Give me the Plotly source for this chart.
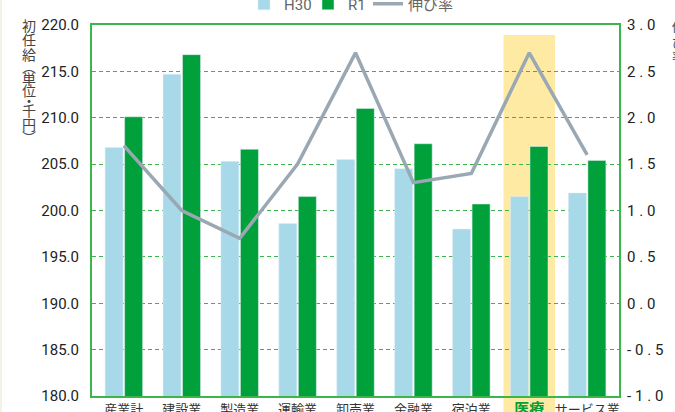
import plotly.graph_objects as go

categories = ["産業計", "建設業", "製造業", "運輸業", "卸売業", "金融業", "宿泊業", "医療", "サービス業"]
h30 = [206.8, 214.7, 205.3, 198.6, 205.5, 204.5, 198.0, 201.5, 201.9]
r1 = [210.1, 216.8, 206.6, 201.5, 211.0, 207.2, 200.7, 206.9, 205.4]
growth = [1.7, 1.0, 0.7, 1.5, 2.7, 1.3, 1.4, 2.7, 1.6]
highlight = "医療"

left_ticks = [180, 185, 190, 195, 200, 205, 210, 215, 220]
right_ticks = [-1.0, -0.5, 0.0, 0.5, 1.0, 1.5, 2.0, 2.5, 3.0]

left_title = "初任給︵単位・千円︶"
right_title = "伸び率"

GREEN = "#00a13a"
BLUE = "#a8d9e8"
GRAY = "#9aa8b3"
FRAME = "#3cb54a"
FONT = "Roboto, Noto Sans CJK JP, sans-serif"

W, H = 675, 412
L, R, T, B = 92, 56, 25, 16
PW = W - L - R
PH = H - T - B

x_idx = list(range(len(categories)))
ticktext = [
    f"<b><span style='color:{GREEN};font-size:15px'>{c}</span></b>" if c == highlight else c
    for c in categories
]

def spaced(v):
    s = f"{v:.1f}"
    return "\u2005".join(s)

fig = go.Figure()
fig.add_trace(go.Bar(name="H30", x=x_idx, y=h30, marker_color=BLUE, legend="legend"))
fig.add_trace(go.Bar(name="R1", x=x_idx, y=r1, marker_color=GREEN, legend="legend2"))
fig.add_trace(go.Scatter(name="伸び率", x=x_idx, y=growth, mode="lines",
                         line=dict(color=GRAY, width=3.5), yaxis="y2", legend="legend3"))

hi = categories.index(highlight)
fig.add_shape(type="rect", xref="x", yref="paper", x0=hi - 0.445, x1=hi + 0.445,
              y0=-B / PH, y1=(396 - 35) / PH, fillcolor="#ffeaa3", line_width=0, layer="below")
# faint page edge
fig.add_shape(type="rect", xref="paper", yref="paper", x0=-L / PW, x1=-(L - 2) / PW,
              y0=-B / PH, y1=1 + T / PH, fillcolor="#eef5e2", line_width=0)

# vertical axis titles
char_y = [26, 40, 54.5, 67, 79, 91.5, 101, 111, 125, 138]
for ch, py in zip(left_title, char_y):
    fig.add_annotation(text=ch, xref="paper", yref="paper", x=(29 - L) / PW,
                       y=(396 - py) / PH, showarrow=False, xanchor="center", yanchor="middle",
                       font=dict(family=FONT, size=14, color="#444"))
for ch, py in zip(right_title, [28, 44, 58]):
    fig.add_annotation(text=ch, xref="paper", yref="paper", x=(670 - L) / PW,
                       y=(396 - py) / PH, showarrow=False, xanchor="left", yanchor="middle",
                       font=dict(family=FONT, size=12, color="#444"))

def legend_at(px):
    return dict(orientation="h", x=(px - L) / PW, xanchor="left", y=1 + (T - 4) / PH,
                yanchor="middle", font=dict(size=15, color="#666"), bgcolor="rgba(0,0,0,0)",
                itemwidth=30, tracegroupgap=0, borderwidth=0)

fig.update_layout(
    width=W, height=H,
    margin=dict(l=L, r=R, t=T, b=B, autoexpand=False),
    paper_bgcolor="white", plot_bgcolor="rgba(0,0,0,0)",
    barmode="group", bargap=0.326, bargroupgap=0.077,
    font=dict(family=FONT, color="#333"),
    showlegend=True,
    legend=legend_at(244), legend2=legend_at(308), legend3=legend_at(368),
    xaxis=dict(range=[-0.55, len(categories) - 0.45], tickmode="array", tickvals=x_idx,
               ticktext=ticktext, showgrid=False, showline=True, linecolor=FRAME, linewidth=2,
               mirror=True, ticks="", tickfont=dict(size=13, color="#333"), zeroline=False),
    yaxis=dict(range=[180, 220], tickvals=left_ticks, ticktext=[f"{v:.1f}" for v in left_ticks],
               showgrid=True, gridcolor=FRAME, griddash="4px,3px", gridwidth=1,
               showline=True, linecolor=FRAME, linewidth=2, mirror=True, zeroline=False,
               tickfont=dict(size=15, color="#222"), ticks="", ticklabelstandoff=8),
    yaxis2=dict(range=[-1.0, 3.0], overlaying="y", side="right", tickvals=right_ticks,
                ticktext=[spaced(v) for v in right_ticks], showgrid=False, zeroline=False,
                showline=False, tickfont=dict(size=15, color="#222"), ticks="",
                ticklabelstandoff=7),
)

fig.write_html("out.html", config={"displayModeBar": False},
               post_script="document.body.style.margin='0';document.body.style.overflow='hidden';")
